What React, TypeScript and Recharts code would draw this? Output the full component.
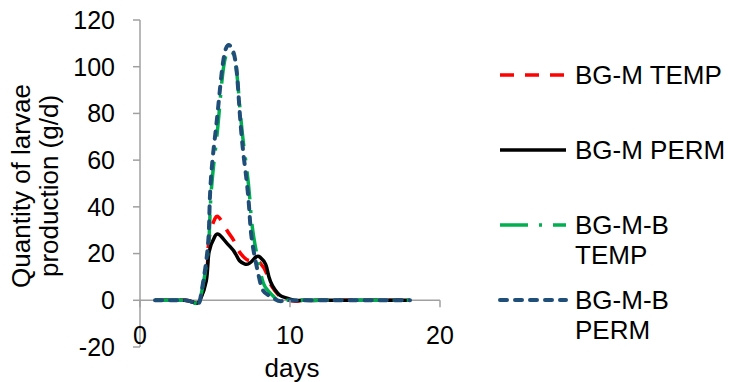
import React from 'react'
import { LineChart, Line, XAxis, YAxis, ReferenceLine } from 'recharts'

// days on the x axis
const days = [1, 2, 3, 4, 5, 6, 7, 8, 9, 10, 11, 12, 13, 14, 15, 16, 17, 18]

// larvae production (g/d) per scenario
const bgmTemp = [0, 0, 0, 0, 35, 28, 18, 16, 4, 0, 0, 0, 0, 0, 0, 0, 0, 0]
const bgmPerm = [0, 0, 0, 0, 27.5, 23, 15.5, 18.5, 4.5, 0.5, 0, 0, 0, 0, 0, 0, 0, 0]
const bgmbTemp = [0, 0, 0, 0, 63, 107, 62, 13, 1, 0, 0, 0, 0, 0, 0, 0, 0, 0]
const bgmbPerm = [0, 0, 0, 0, 70, 109, 57, 8, 0.5, 0, 0, 0, 0, 0, 0, 0, 0, 0]

const xTicks = [0, 10, 20]
const yTicks = [-20, 0, 20, 40, 60, 80, 100, 120]

const W = 730
const H = 382
const PLOT_LEFT = 140
const PLOT_RIGHT = 440
const PLOT_TOP = 20
const PLOT_BOTTOM = 347
const Y_MIN = -20
const Y_MAX = 120
const ZERO_Y = PLOT_TOP + ((PLOT_BOTTOM - PLOT_TOP) * (Y_MAX - 0)) / (Y_MAX - Y_MIN)

const FONT = '"Liberation Sans", Arial, sans-serif'
const AXIS_GRAY = '#a0a0a0'

const data = days.map((d, i) => ({
  day: d,
  bgmTemp: bgmTemp[i],
  bgmPerm: bgmPerm[i],
  bgmbTemp: bgmbTemp[i],
  bgmbPerm: bgmbPerm[i],
}))

const series = [
  { key: 'bgmTemp', label: ['BG-M TEMP'], color: '#ff0000', width: 3.5, dash: '14 11', cap: 'butt' },
  { key: 'bgmPerm', label: ['BG-M PERM'], color: '#000000', width: 3.5, dash: undefined, cap: 'butt' },
  { key: 'bgmbTemp', label: ['BG-M-B', 'TEMP'], color: '#00b050', width: 3.5, dash: '28 11 3 11', cap: 'butt' },
  { key: 'bgmbPerm', label: ['BG-M-B', 'PERM'], color: '#1f4e79', width: 4, dash: '7 8', cap: 'round' },
]

// Excel-like smoothed line (bezier with chord-length weighted tangents)
const TENSION = 0.55
const excelCurve = (context: any) => {
  let pts: number[][] = []
  return {
    areaStart() {},
    areaEnd() {},
    lineStart() {
      pts = []
    },
    point(x: number, y: number) {
      pts.push([+x, +y])
    },
    lineEnd() {
      const n = pts.length
      if (!n) return
      context.moveTo(pts[0][0], pts[0][1])
      if (n === 1) return
      const ctrl = pts.map((p, i) => {
        const prev = pts[i - 1] ?? p
        const next = pts[i + 1] ?? p
        const d0 = Math.hypot(p[0] - prev[0], p[1] - prev[1])
        const d1 = Math.hypot(next[0] - p[0], next[1] - p[1])
        const tx = next[0] - prev[0]
        const ty = next[1] - prev[1]
        const s = d0 + d1 || 1
        return {
          inP: [p[0] - (tx * TENSION * d0) / s, p[1] - (ty * TENSION * d0) / s],
          outP: [p[0] + (tx * TENSION * d1) / s, p[1] + (ty * TENSION * d1) / s],
        }
      })
      for (let i = 0; i < n - 1; i++) {
        context.bezierCurveTo(
          ctrl[i].outP[0], ctrl[i].outP[1],
          ctrl[i + 1].inP[0], ctrl[i + 1].inP[1],
          pts[i + 1][0], pts[i + 1][1]
        )
      }
    },
  }
}

const XTick = (props: any) => {
  const { x, payload } = props
  return (
    <g>
      <line x1={x} x2={x} y1={ZERO_Y} y2={ZERO_Y + 7} stroke={AXIS_GRAY} strokeWidth={1.5} />
      <text x={x} y={ZERO_Y + 44} textAnchor="middle" fontSize={25} fontFamily={FONT} fill="#000">
        {payload.value}
      </text>
    </g>
  )
}

const YTitle = () => (
  <g fontFamily={FONT} fontSize={26} fill="#000">
    <text x={21} y={186} transform="rotate(-90, 21, 186)" textAnchor="middle" dominantBaseline="central">
      Quantity of larvae
    </text>
    <text x={49} y={186} transform="rotate(-90, 49, 186)" textAnchor="middle" dominantBaseline="central">
      production (g/d)
    </text>
  </g>
)

const XTitle = () => (
  <text x={292} y={368} textAnchor="middle" dominantBaseline="central" fontFamily={FONT} fontSize={26} fill="#000">
    days
  </text>
)

function LegendBox() {
  return (
    <div style={{ position: 'absolute', left: 498, top: 0, width: 232, fontFamily: FONT, fontSize: 26, color: '#000' }}>
      {series.map((s, i) => (
        <div key={s.key} style={{ position: 'absolute', left: 0, top: 60 + 75 * i, display: 'flex', alignItems: 'flex-start' }}>
          <svg width={70} height={30} style={{ flex: 'none' }}>
            <line
              x1={2}
              x2={68}
              y1={15}
              y2={15}
              stroke={s.color}
              strokeWidth={s.width}
              strokeDasharray={s.dash}
              strokeLinecap={s.cap as any}
            />
          </svg>
          <div style={{ marginLeft: 7, lineHeight: '30px', whiteSpace: 'nowrap' }}>
            {s.label.map((t) => (
              <div key={t}>{t}</div>
            ))}
          </div>
        </div>
      ))}
    </div>
  )
}

export default function App() {
  return (
    <div style={{ position: 'absolute', left: 0, top: 0, width: W, height: H, background: '#fff' }}>
      <LineChart
        width={W}
        height={H}
        data={data}
        margin={{ top: PLOT_TOP, right: W - PLOT_RIGHT, bottom: H - PLOT_BOTTOM - 30, left: 0 }}
      >
        <XAxis
          dataKey="day"
          type="number"
          domain={[0, 20]}
          ticks={xTicks}
          axisLine={false}
          tickLine={false}
          tick={<XTick />}
          height={30}
          label={<XTitle />}
        />
        <YAxis
          type="number"
          domain={[Y_MIN, Y_MAX]}
          ticks={yTicks}
          width={PLOT_LEFT}
          axisLine={{ stroke: AXIS_GRAY, strokeWidth: 1.5 }}
          tickLine={{ stroke: AXIS_GRAY, strokeWidth: 1.5 }}
          tickSize={7}
          tickMargin={18}
          tick={{ fontSize: 25, fill: '#000', fontFamily: FONT }}
          interval={0}
          label={<YTitle />}
        />
        <ReferenceLine y={0} stroke={AXIS_GRAY} strokeWidth={1.5} />
        {series.map((s) => (
          <Line
            key={s.key}
            dataKey={s.key}
            type={excelCurve as any}
            stroke={s.color}
            strokeWidth={s.width}
            strokeDasharray={s.dash}
            strokeLinecap={s.cap as any}
            dot={false}
            activeDot={false}
            isAnimationActive={false}
          />
        ))}
      </LineChart>
      <LegendBox />
    </div>
  )
}
